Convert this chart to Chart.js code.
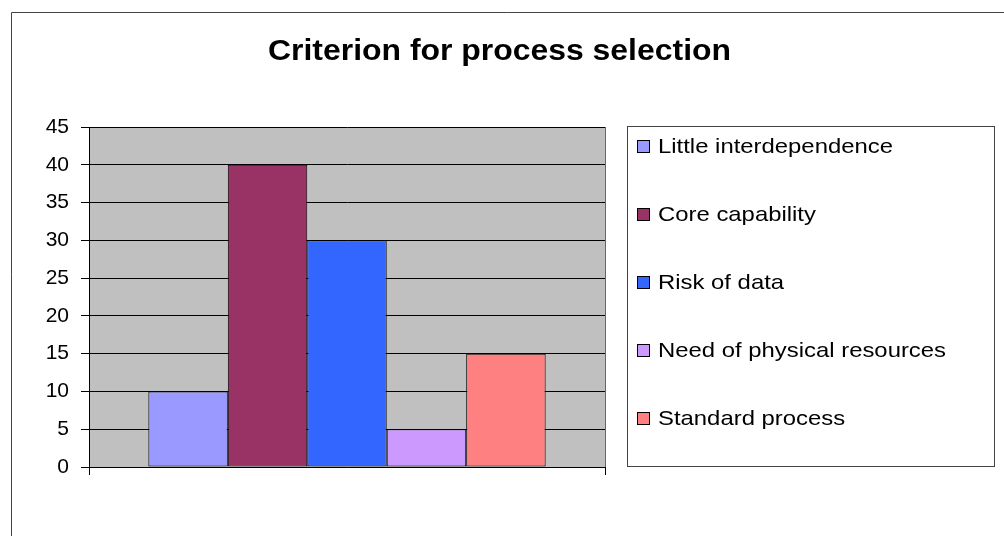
<!DOCTYPE html>
<html>
<head>
<meta charset="utf-8">
<script src="https://cdn.jsdelivr.net/npm/chart.js@4.4.0/dist/chart.umd.min.js"></script>
<style>
  body { margin: 0; background: #fff; }
  #wrap { width: 1004px; height: 536px; }
</style>
</head>
<body>
<div id="wrap"><canvas id="myChart" width="1004" height="536"></canvas></div>
<script>
let canva = document.querySelector('#myChart')

// data
const chart_title = 'Criterion for process selection'
const series_names = ['Little interdependence', 'Core capability', 'Risk of data', 'Need of physical resources', 'Standard process']
const series_values = [10, 40, 30, 5, 15]
const series_colors = ['#9999FF', '#993366', '#3366FF', '#CC99FF', '#FF8080']
const categories = ['']
const y_ticks = [0, 5, 10, 15, 20, 25, 30, 35, 40, 45]

const FONT = 'Arial, "Liberation Sans", sans-serif'

// draws text squeezed/stretched to a given width (the original text is wide)
function wideText(ctx, text, x, y, width, align) {
  const w = ctx.measureText(text).width
  const k = width / w
  ctx.save()
  ctx.translate(x, y)
  ctx.scale(k, 1)
  ctx.textAlign = align
  ctx.fillText(text, 0, 0)
  ctx.restore()
}

// frame, grey plot area, title and the boxed legend
const excelLook = {
  id: 'excelLook',
  beforeDraw(chart) {
    const ctx = chart.ctx
    const a = chart.chartArea
    ctx.save()
    ctx.fillStyle = '#fff'
    ctx.fillRect(0, 0, chart.width, chart.height)
    ctx.strokeStyle = '#444'
    ctx.lineWidth = 1
    ctx.beginPath()
    ctx.moveTo(11.5, chart.height)
    ctx.lineTo(11.5, 12.5)
    ctx.lineTo(chart.width, 12.5)
    ctx.stroke()
    ctx.fillStyle = '#C0C0C0'
    ctx.fillRect(a.left, a.top, a.right - a.left, a.bottom - a.top)
    ctx.restore()
  },
  beforeDatasetsDraw(chart) {
    const ctx = chart.ctx
    const a = chart.chartArea
    ctx.save()
    ctx.strokeStyle = '#666'
    ctx.lineWidth = 1
    ctx.beginPath()
    ctx.moveTo(Math.round(a.right) + 0.5, a.top)
    ctx.lineTo(Math.round(a.right) + 0.5, a.bottom)
    ctx.stroke()
    ctx.restore()
  },
  afterDraw(chart) {
    const ctx = chart.ctx
    ctx.save()
    ctx.fillStyle = '#000'
    ctx.textBaseline = 'alphabetic'
    ctx.font = 'bold 29px ' + FONT
    wideText(ctx, chart_title, 499.5, 59.5, 463, 'center')

    ctx.strokeStyle = '#444'
    ctx.lineWidth = 1
    ctx.strokeRect(627.5, 126.5, 367, 340)
    ctx.font = '21px ' + FONT
    const base = ctx.measureText(series_names[0]).width
    chart.data.datasets.forEach((ds, i) => {
      const y = 140 + i * 68
      ctx.fillStyle = ds.backgroundColor
      ctx.fillRect(637, y, 13, 13)
      ctx.strokeStyle = '#000'
      ctx.strokeRect(637.5, y + 0.5, 12, 12)
      ctx.fillStyle = '#000'
      const w = ctx.measureText(ds.label).width
      wideText(ctx, ds.label, 658, y + 13, w * 235 / base, 'left')
    })
    ctx.restore()
  }
}

const data = {
  labels: categories,
  datasets: series_names.map((name, i) => ({
    label: name,
    data: [series_values[i]],
    backgroundColor: series_colors[i],
    borderColor: '#000',
    borderWidth: 1,
    borderSkipped: false,
    categoryPercentage: 0.77,
    barPercentage: 1
  }))
}

const config = {
  type: 'bar',
  data: data,
  plugins: [excelLook],
  options: {
    responsive: false,
    animation: false,
    layout: { padding: { left: 0, right: 399, top: 127, bottom: 61 } },
    plugins: {
      legend: { display: false },
      tooltip: { enabled: false },
      title: { display: false }
    },
    scales: {
      x: {
        grid: { display: true, drawOnChartArea: false, color: '#000', tickLength: 8, offset: true },
        border: { display: true, color: '#000' },
        ticks: { display: false }
      },
      y: {
        min: 0,
        max: 45,
        afterFit: s => { s.width = 89 },
        afterBuildTicks: s => { s.ticks = y_ticks.map(v => ({ value: v })) },
        grid: { color: '#000', tickLength: 8 },
        border: { display: true, color: '#000' },
        ticks: { color: '#000', padding: 12, font: { family: FONT, size: 21 } }
      }
    }
  }
}

new Chart(canva, config)
</script>
</body>
</html>
